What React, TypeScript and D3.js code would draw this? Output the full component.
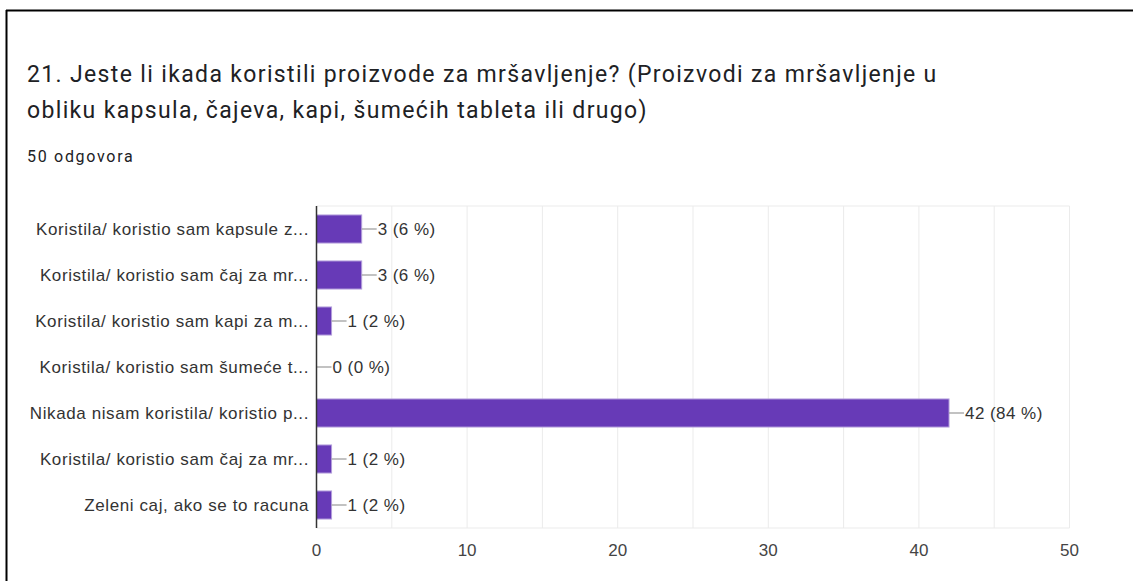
import React from "react";
import * as d3 from "d3";

const categories = [
  "Koristila/ koristio sam kapsule z...",
  "Koristila/ koristio sam čaj za mr...",
  "Koristila/ koristio sam kapi za m...",
  "Koristila/ koristio sam šumeće t...",
  "Nikada nisam koristila/ koristio p...",
  "Koristila/ koristio sam čaj za mr...",
  "Zeleni caj, ako se to racuna",
];
const counts = [3, 3, 1, 0, 42, 1, 1];
const percents = [6, 6, 2, 0, 84, 2, 2];
const xTicks = [0, 10, 20, 30, 40, 50];
const gridValues = [5, 10, 15, 20, 25, 30, 35, 40, 45, 50];
const titleLines = [
  "21. Jeste li ikada koristili proizvode za mršavljenje? (Proizvodi za mršavljenje u",
  "obliku kapsula, čajeva, kapi, šumećih tableta ili drugo)",
];
const subtitle = "50 odgovora";

export default function App() {
  const W = 1133, H = 581;
  const left = 316.5, right = 1069.5, top = 206, bottom = 528;
  const x = d3.scaleLinear().domain([0, 50]).range([left, right]);
  const y = d3.scaleBand<number>().domain(d3.range(categories.length)).range([top, bottom]).paddingInner(0.39).paddingOuter(0.195);
  const font = "'Liberation Sans', Arial, sans-serif";
  return (
    <div style={{ position: "fixed", left: 0, top: 0, width: W, height: H, background: "#fff" }}>
      <svg width={W} height={H} style={{ display: "block" }}>
        <rect x={0} y={0} width={W} height={H} fill="#fff" />
        <line x1={6.5} y1={10} x2={6.5} y2={H} stroke="#000" strokeWidth={2} />
        <line x1={6} y1={10.5} x2={W} y2={10.5} stroke="#000" strokeWidth={2} />
        {titleLines.map((t, i) => (
          <text key={i} x={27} y={82 + i * 36} fontFamily="Roboto, sans-serif" fontSize={23} letterSpacing={1.35} fill="#202124">{t}</text>
        ))}
        <text x={27} y={162} fontFamily="Roboto, sans-serif" fontSize={16} letterSpacing={1.7} fill="#202124">{subtitle}</text>
        {gridValues.map((v) => (
          <line key={v} x1={x(v)} x2={x(v)} y1={top} y2={bottom} stroke="#ebebeb" strokeWidth={1} />
        ))}
        <line x1={left} x2={right} y1={top} y2={top} stroke="#ebebeb" />
        <line x1={left} x2={right} y1={bottom} y2={bottom} stroke="#ebebeb" />
        {counts.map((c, i) => {
          const yy = y(i)!;
          const bh = y.bandwidth();
          const cy = yy + bh / 2;
          const xe = x(c);
          return (
            <g key={i}>
              {c > 0 && <rect x={left} y={yy} width={xe - left} height={bh} fill="#673ab7" stroke="#b39ddb" strokeWidth={1} />}
              <line x1={xe} x2={xe + 15} y1={cy} y2={cy} stroke="#999" strokeWidth={1.2} />
              <text x={xe + 16} y={cy} dy="0.36em" fontFamily={font} fontSize={17} letterSpacing={0.45} fill="#333">{`${c} (${percents[i]} %)`}</text>
              <text x={309} y={cy} dy="0.36em" textAnchor="end" fontFamily={font} fontSize={17} letterSpacing={0.6} fill="#333">{categories[i]}</text>
            </g>
          );
        })}
        <line x1={left} x2={left} y1={top} y2={bottom} stroke="#333" strokeWidth={1.5} />
        {xTicks.map((v) => (
          <text key={v} x={x(v)} y={556} textAnchor="middle" fontFamily={font} fontSize={17} fill="#444">{v}</text>
        ))}
      </svg>
    </div>
  );
}
